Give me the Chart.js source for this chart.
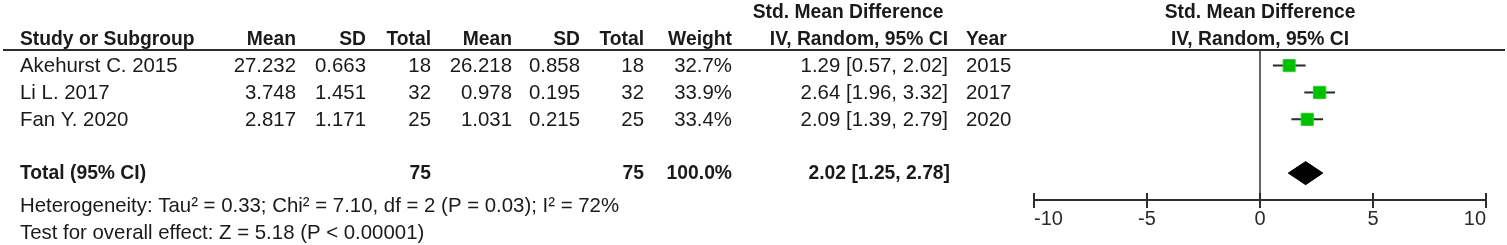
<!DOCTYPE html>
<html>
<head>
<meta charset="utf-8">
<script src="https://cdn.jsdelivr.net/npm/chart.js@4.4.1/dist/chart.umd.min.js"></script>
<style>
  html, body { margin: 0; padding: 0; background: #fff; }
  #wrap { position: relative; width: 1507px; height: 245px; }
</style>
</head>
<body>
<div id="wrap"><canvas id="c"></canvas></div>
<script>
// ---------------- data ----------------
const studies   = ['Akehurst C. 2015', 'Li L. 2017', 'Fan Y. 2020'];
const expMean   = [27.232, 3.748, 2.817];
const expSD     = [0.663, 1.451, 1.171];
const expN      = [18, 32, 25];
const ctlMean   = [26.218, 0.978, 1.031];
const ctlSD     = [0.858, 0.195, 0.215];
const ctlN      = [18, 32, 25];
const weights   = [32.7, 33.9, 33.4];
const smd       = [1.29, 2.64, 2.09];
const ciLow     = [0.57, 1.96, 1.39];
const ciHigh    = [2.02, 3.32, 2.79];
const years     = [2015, 2017, 2020];

const totalLabel   = 'Total (95% CI)';
const totalExpN    = 75;
const totalCtlN    = 75;
const totalWeight  = 100.0;
const pooledSMD    = 2.02;
const pooledLow    = 1.25;
const pooledHigh   = 2.78;

const heterogeneityText = 'Heterogeneity: Tau² = 0.33; Chi² = 7.10, df = 2 (P = 0.03); I² = 72%';
const overallEffectText = 'Test for overall effect: Z = 5.18 (P < 0.00001)';

const xTicks = [-10, -5, 0, 5, 10];

// ---------------- layout (styles / positions) ----------------
const TOTAL_ROW = 4;              // row index for pooled result
const DIAMOND_HALF = 0.43;        // half height of diamond in row units
const FONT = '"Liberation Sans", Arial, sans-serif';
const REG = '20.4px ' + FONT;
const BOLD = 'bold 19.3px ' + FONT;
const TXT = '#1a1a1a';
const TEXT_DY = 1;
const COLS = { name: 20, m1: 296, s1: 366, n1: 431, m2: 512, s2: 580, n2: 644, w: 732, ci: 948, year: 966, smdHead: 848 };

// ---------------- datasets ----------------
const whiskerSets = studies.map((s, i) => ({
  type: 'line',
  data: [{ x: ciLow[i], y: i }, { x: ciHigh[i], y: i }],
  borderColor: '#2a2a2a', borderWidth: 2, pointRadius: 0, order: 3
}));
const squareSet = {
  type: 'scatter',
  data: studies.map((s, i) => ({ x: smd[i], y: i })),
  pointStyle: 'rect',
  pointRadius: weights.map(w => 8.6 * Math.sqrt(w / 33.3)),
  backgroundColor: '#00c000', borderColor: '#2ccc2c', borderWidth: 1, order: 0
};
const diamondSet = {
  type: 'line',
  data: [
    { x: pooledLow, y: TOTAL_ROW },
    { x: pooledSMD, y: TOTAL_ROW - DIAMOND_HALF },
    { x: pooledHigh, y: TOTAL_ROW },
    { x: pooledSMD, y: TOTAL_ROW + DIAMOND_HALF },
    { x: pooledLow, y: TOTAL_ROW }
  ],
  fill: 'shape', backgroundColor: '#000', borderColor: '#000', borderWidth: 1,
  pointRadius: 0, tension: 0, order: 1
};

// ---------------- table plugin ----------------
const tablePlugin = {
  id: 'forestTable',
  afterDraw(chart) {
    const ctx = chart.ctx, xs = chart.scales.x, ys = chart.scales.y, ca = chart.chartArea;
    ctx.save();
    // header rule
    ctx.strokeStyle = '#2e2e2e'; ctx.lineWidth = 2;
    ctx.beginPath(); ctx.moveTo(3, ca.top); ctx.lineTo(1505, ca.top); ctx.stroke();
    // x axis line + ticks
    ctx.beginPath();
    ctx.moveTo(xs.getPixelForValue(xTicks[0]), ca.bottom);
    ctx.lineTo(xs.getPixelForValue(xTicks[xTicks.length - 1]), ca.bottom);
    xTicks.forEach(v => { const px = xs.getPixelForValue(v); ctx.moveTo(px, ca.bottom - 7); ctx.lineTo(px, ca.bottom + 8); });
    ctx.stroke();

    ctx.fillStyle = TXT; ctx.textBaseline = 'middle';
    const put = (t, x, row, align, font) => { ctx.font = font; ctx.textAlign = align; ctx.fillText(t, x, ys.getPixelForValue(row) + TEXT_DY); };

    // headers
    put('Std. Mean Difference', COLS.smdHead, -2, 'center', BOLD);
    put('Study or Subgroup', COLS.name, -1, 'left', BOLD);
    put('Mean', COLS.m1, -1, 'right', BOLD);
    put('SD', COLS.s1, -1, 'right', BOLD);
    put('Total', COLS.n1, -1, 'right', BOLD);
    put('Mean', COLS.m2, -1, 'right', BOLD);
    put('SD', COLS.s2, -1, 'right', BOLD);
    put('Total', COLS.n2, -1, 'right', BOLD);
    put('Weight', COLS.w, -1, 'right', BOLD);
    put('IV, Random, 95% CI', COLS.ci, -1, 'right', BOLD);
    put('Year', COLS.year, -1, 'left', BOLD);
    const cx = (ca.left + ca.right) / 2;
    put('Std. Mean Difference', cx, -2, 'center', BOLD);
    put('IV, Random, 95% CI', cx, -1, 'center', BOLD);

    // study rows
    studies.forEach((s, i) => {
      put(s, COLS.name, i, 'left', REG);
      put(expMean[i].toFixed(3), COLS.m1, i, 'right', REG);
      put(expSD[i].toFixed(3), COLS.s1, i, 'right', REG);
      put(String(expN[i]), COLS.n1, i, 'right', REG);
      put(ctlMean[i].toFixed(3), COLS.m2, i, 'right', REG);
      put(ctlSD[i].toFixed(3), COLS.s2, i, 'right', REG);
      put(String(ctlN[i]), COLS.n2, i, 'right', REG);
      put(weights[i].toFixed(1) + '%', COLS.w, i, 'right', REG);
      put(smd[i].toFixed(2) + ' [' + ciLow[i].toFixed(2) + ', ' + ciHigh[i].toFixed(2) + ']', COLS.ci, i, 'right', REG);
      put(String(years[i]), COLS.year, i, 'left', REG);
    });

    // total row
    put(totalLabel, COLS.name, TOTAL_ROW, 'left', BOLD);
    put(String(totalExpN), COLS.n1, TOTAL_ROW, 'right', BOLD);
    put(String(totalCtlN), COLS.n2, TOTAL_ROW, 'right', BOLD);
    put(totalWeight.toFixed(1) + '%', COLS.w, TOTAL_ROW, 'right', BOLD);
    put(pooledSMD.toFixed(2) + ' [' + pooledLow.toFixed(2) + ', ' + pooledHigh.toFixed(2) + ']', COLS.ci + 2, TOTAL_ROW, 'right', BOLD);

    // footers
    put(heterogeneityText, COLS.name, 5.2, 'left', REG);
    put(overallEffectText, COLS.name, 6.22, 'left', REG);
    ctx.restore();
  }
};

new Chart(document.getElementById('c'), {
  type: 'line',
  data: { datasets: [squareSet, diamondSet, ...whiskerSets] },
  options: {
    responsive: true, maintainAspectRatio: false, animation: false,
    devicePixelRatio: 1,
    layout: { padding: { left: 1034, right: 21, top: 50, bottom: 0 } },
    plugins: { legend: { display: false }, tooltip: { enabled: false } },
    scales: {
      x: {
        type: 'linear', position: 'bottom', min: xTicks[0], max: xTicks[xTicks.length - 1],
        afterBuildTicks: s => { s.ticks = xTicks.map(v => ({ value: v })); },
        afterFit: s => { s.height = 45; },
        border: { display: false },
        grid: {
          drawTicks: false, lineWidth: 2,
          color: c => (c.tick && c.tick.value === 0) ? '#666' : 'rgba(0,0,0,0)'
        },
        ticks: { color: '#2a2a2a', font: { family: FONT, size: 20 }, padding: 7, maxRotation: 0,
                 align: 'inner', callback: v => String(v) }
      },
      y: {
        type: 'linear', reverse: true, min: -0.58, max: 5.0, display: false
      }
    }
  },
  plugins: [tablePlugin]
});
</script>
</body>
</html>
